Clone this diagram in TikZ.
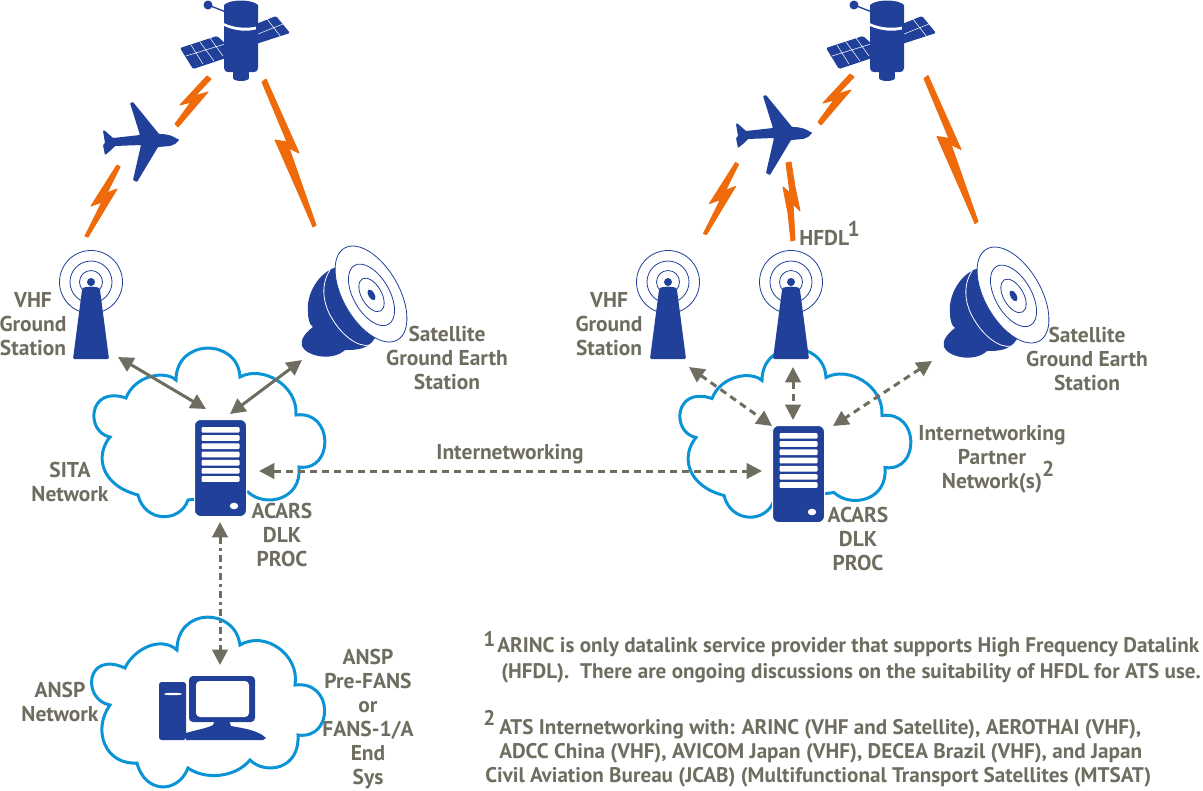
\documentclass[tikz,border=0pt]{standalone}
\usepackage{fontspec}
\setmainfont{PT Sans}
\usetikzlibrary{arrows.meta}
\definecolor{navy}{HTML}{21409A}
\definecolor{sky}{HTML}{0A93D5}
\definecolor{flash}{HTML}{EE6A0A}
\definecolor{slate}{HTML}{6E6D5F}
\tikzset{
  lbl/.style={text=slate, font=\bfseries\fontsize{16.1}{18}\selectfont, align=center, inner sep=0pt},
  note/.style={text=slate, font=\bfseries\fontsize{15.85}{18}\selectfont, anchor=west, inner sep=0pt},
  cloudline/.style={draw=sky, line width=2.25pt},
  bolt/.style={fill=flash, draw=flash, line width=.75pt, line join=round},
  blue/.style={fill=navy, draw=none},
  solidlink/.style={draw=slate, line width=2.25pt, {Triangle[width=11.5pt,length=11.5pt]}-{Triangle[width=11.5pt,length=11.5pt]}},
  dashlink/.style={solidlink, dash pattern=on 5.25pt off 3.75pt},
  dotlink/.style={solidlink, dash pattern=on 5.25pt off 3pt on 2.25pt off 3pt},
  srvbody/.style={fill=navy, draw=white, line width=.75pt, rounded corners=4.5pt, minimum width=39pt, minimum height=72.75pt, inner sep=0pt},
  pics/network/.style={code={
    \draw[cloudline] (176,380) .. controls (176,338) and (238,338) .. (240,377)
      .. controls (262,365) and (298,385) .. (296,415)
      .. controls (334,410) and (334,472) .. (299,467)
      .. controls (302,500) and (265,508) .. (248,492) -- (188,500)
      .. controls (180,523) and (145,523) .. (138,495)
      .. controls (100,485) and (95,455) .. (110,437)
      .. controls (85,432) and (88,385) .. (126,398)
      .. controls (135,375) and (165,370) .. (176,380) -- cycle;
  }},
  pics/slats/.style={code={
    \foreach \k in {0,...,6}
      \fill[white, rounded corners=.75pt] (-19,-41+8.2*\k) rectangle (19,-35.3+8.2*\k);
    \fill[white] (13.5,38) ellipse [x radius=4.2, y radius=3.3];
  }},
  pics/mast/.style={code={
    \draw[navy, line width=.6pt] (0,0) circle [radius=31.5] (0,0) circle [radius=21] (0,0) circle [radius=11.5];
    \fill[navy] (0,0) circle [radius=4];
    \fill[blue, rounded corners=1pt] (-18,77) -- (-9,8) .. controls (-8,4) and (8,4) .. (9,8) -- (18,77) -- cycle;
  }},
  pics/dish/.style={code={
    \fill[blue] (337,267) .. controls (318,272) and (306,295) .. (308,312)
      .. controls (308,320) and (310,325) .. (313,327)
      .. controls (305,333) and (300,340) .. (302,346)
      .. controls (306,356) and (332,362) .. (345,350)
      .. controls (355,350) and (368,350) .. (375,338) -- cycle;
    \draw[white, line width=.6pt] (330,270) .. controls (320,285) and (323,305) .. (333,320)
      .. controls (342,335) and (358,348) .. (370,345);
    \begin{scope}[shift={(371,294)}, rotate=-60]
      \draw[navy, fill=white, line width=.6pt] (0,0) ellipse [x radius=53, y radius=28];
      \draw[navy, line width=.6pt] (1,0) ellipse [x radius=34, y radius=18] (1,0) ellipse [x radius=18.5, y radius=10];
      \fill[navy] (1,0) ellipse [x radius=6, y radius=3];
    \end{scope}
  }},
  pics/satellite/.style={code={
    \fill[blue] (208,5) circle [radius=4.5];
    \draw[navy, line width=1pt] (208,5) -- (226,12);
    \fill[blue, rounded corners=1pt] (180,48) -- (217,36) -- (226,44) -- (226,58) -- (193,69) -- cycle;
    \fill[blue, rounded corners=1pt] (256,24) -- (276,16) -- (290,33) -- (256,44) -- cycle;
    \draw[white, line width=.4pt] (186,56) -- (225,44) (191,45) -- (203,64) (200,42) -- (214,61) (210,38) -- (223,56)
      (258,34) -- (283,24) (267,19) -- (281,37);
    \fill[blue] (224,5) .. controls (230,-1) and (252,-1) .. (258,5) -- (258,26) .. controls (248,29) and (234,28) .. (224,23) -- cycle;
    \fill[blue] (224,26) .. controls (234,31) and (248,32) .. (258,29) -- (258,68) .. controls (258,71) and (256,72) .. (254,72)
      -- (228,72) .. controls (226,72) and (224,71) .. (224,68) -- cycle;
    \fill[blue] (233,70) rectangle (249,78);
    \fill[blue] (241,78) ellipse [x radius=8, y radius=3];
  }},
  pics/plane/.style={code={
    \fill[blue, rounded corners=.6pt] (179,140) .. controls (173,136) and (168,134) .. (159,134)
      -- (133,102) -- (130,103) -- (140,135) -- (113,138) -- (104,130) -- (103,131) -- (105,143) -- (103,145) -- (105,155) -- (110,151) -- (115,146)
      -- (141,145) -- (133,180) -- (137,182) -- (158,147) -- (170,146) .. controls (174,145) and (177,143) .. (179,140) -- cycle;
  }},
  pics/boltup/.style={code={
    \filldraw[bolt] (207,76) -- (211,79) -- (195,96) -- (208,92) -- (178,127) -- (175,124) -- (191,102) -- (180,105) -- cycle;
  }},
  pics/boltdown/.style={code={
    \filldraw[bolt] (117,165) -- (120,167) -- (107,193) -- (117,189) -- (88,237) -- (85,236) -- (102,202) -- (91,206) -- cycle;
  }},
  pics/boltlong/.style={code={
    \filldraw[bolt] (262,82) -- (266,79) -- (299,153) -- (289,148) -- (316,225) -- (313,227) -- (297,190) -- (275,140) -- (287,142) -- cycle;
  }},
}
\begin{document}
\begin{tikzpicture}[x=.75pt, y=-.75pt]
  \useasboundingbox (0,0) rectangle (1203,790);
  \pic at (0,0) {network};
  \pic at (586,.5) {network};
  \draw[cloudline] (177,650) .. controls (177,607) and (235,607) .. (240,645)
    .. controls (265,630) and (300,655) .. (295,685)
    .. controls (334,680) and (334,740) .. (298,735)
    .. controls (300,770) and (265,775) .. (250,760)
    .. controls (235,778) and (205,780) .. (188,768)
    .. controls (178,794) and (145,794) .. (137,763)
    .. controls (105,765) and (92,730) .. (110,705)
    .. controls (82,700) and (85,650) .. (125,668)
    .. controls (133,650) and (160,635) .. (177,650) -- cycle;

  \pic at (646,0) {satellite};
  \pic at (0,0) {satellite};
  \pic at (0,0) {plane};
  \pic at (633,-7) {plane};
  \pic at (0,0) {boltup};
  \pic at (643,-2) {boltup};
  \pic at (0,0) {boltdown};
  \pic at (618.5,-2.5) {boltdown};
  \pic at (0,0) {boltlong};
  \pic at (662,-3.5) {boltlong};
  \filldraw[bolt] (786,163) -- (791,162) -- (795,187) -- (800,211) -- (793,204) -- (795,240) -- (791,241) -- (788,213) -- (783,187) -- (790,193) -- cycle;

  \pic at (91,282) {mast};
  \pic at (668,282) {mast};
  \pic at (791,282) {mast};
  \pic at (0,0) {dish};
  \pic at (642,1) {dish};

  \node[srvbody] (srv1) at (220.5,468) {};
  \pic at (srv1.center) {slats};
  \node[srvbody] (srv2) at (798.5,474) {};
  \pic at (srv2.center) {slats};

  \fill[blue, rounded corners=2pt] (159,682) rectangle (186,740);
  \fill[white] (173,694) ellipse [x radius=9, y radius=1.2];
  \fill[blue, rounded corners=3pt] (189,676) rectangle (255,722);
  \fill[white, rounded corners=3pt] (196,681) rectangle (249,717);
  \fill[blue] (186,733) .. controls (196,730) and (208,728) .. (213,725) -- (215,720) -- (229,720) -- (231,726)
    .. controls (242,728) and (258,730) .. (266,738) -- (263,740) -- (186,740) -- cycle;

  \coordinate (vhf1) at (118,357);
  \coordinate (proc1a) at (206,409);
  \coordinate (ges1) at (302,360);
  \coordinate (proc1b) at (230,414);
  \coordinate (proc1c) at (259,471);
  \coordinate (proc2c) at (762,471);
  \coordinate (proc1d) at (220,522);
  \coordinate (ansp) at (220,665);
  \coordinate (vhf2) at (689,367);
  \coordinate (proc2a) at (772,426);
  \coordinate (hfdl) at (793,367);
  \coordinate (proc2b) at (793,420);
  \coordinate (ges2) at (932,361);
  \coordinate (proc2d) at (833,426);

  \draw[solidlink] (vhf1) to (proc1a);
  \draw[solidlink] (ges1) to (proc1b);
  \draw[dashlink] (proc1c) to (proc2c);
  \draw[dotlink] (proc1d) to (ansp);
  \draw[dashlink] (vhf2) to (proc2a);
  \draw[dashlink] (hfdl) to (proc2b);
  \draw[dashlink] (ges2) to (proc2d);

  \node[lbl] (vhflbl1) at (33,324) {VHF\\Ground\\Station};
  \node[lbl] (geslbl1) at (447,358) {Satellite\\Ground Earth\\Station};
  \node[lbl] (sitalbl) at (70,482) {SITA\\Network};
  \node[lbl] (proclbl1) at (282,535) {ACARS\\DLK\\PROC};
  \node[lbl] (intlbl) at (510,454) {Internetworking};
  \node[lbl] (ansplbl) at (60,702) {ANSP\\Network};
  \node[lbl] (endlbl) at (368,719) {ANSP\\Pre-FANS\\or\\FANS-1/A\\End\\Sys};
  \node[lbl] (vhflbl2) at (609,324) {VHF\\Ground\\Station};
  \node[lbl, anchor=west] (hfdllbl) at (799,238) {HFDL\kern-1pt\smash{\raisebox{7pt}{1}}};
  \node[lbl] (geslbl2) at (1087,359) {Satellite\\Ground Earth\\Station};
  \node[lbl] (proclbl2) at (858,539) {ACARS\\DLK\\PROC};
  \node[lbl] (partnerlbl) at (992,459) {Internetworking\\Partner\\Network(s)\rlap{\smash{\raisebox{9pt}{2}}}};

  \node[note] (mark1) at (483,639) {1};
  \node[note] (n1) at (497,647) {ARINC is only datalink service provider that supports High Frequency Datalink};
  \node[note] (n2) at (501,673) {(HFDL).\ \ There are ongoing discussions on the suitability of HFDL for ATS use.};
  \node[note] (mark2) at (483,718) {2};
  \node[note] (n3) at (499,729) {ATS Internetworking with: ARINC (VHF and Satellite), AEROTHAI (VHF),};
  \node[note] (n4) at (499,753) {ADCC China (VHF), AVICOM Japan (VHF), DECEA Brazil (VHF), and Japan};
  \node[note] (n5) at (485,777) {Civil Aviation Bureau (JCAB) (Multifunctional Transport Satellites (MTSAT)};
\end{tikzpicture}
\end{document}
